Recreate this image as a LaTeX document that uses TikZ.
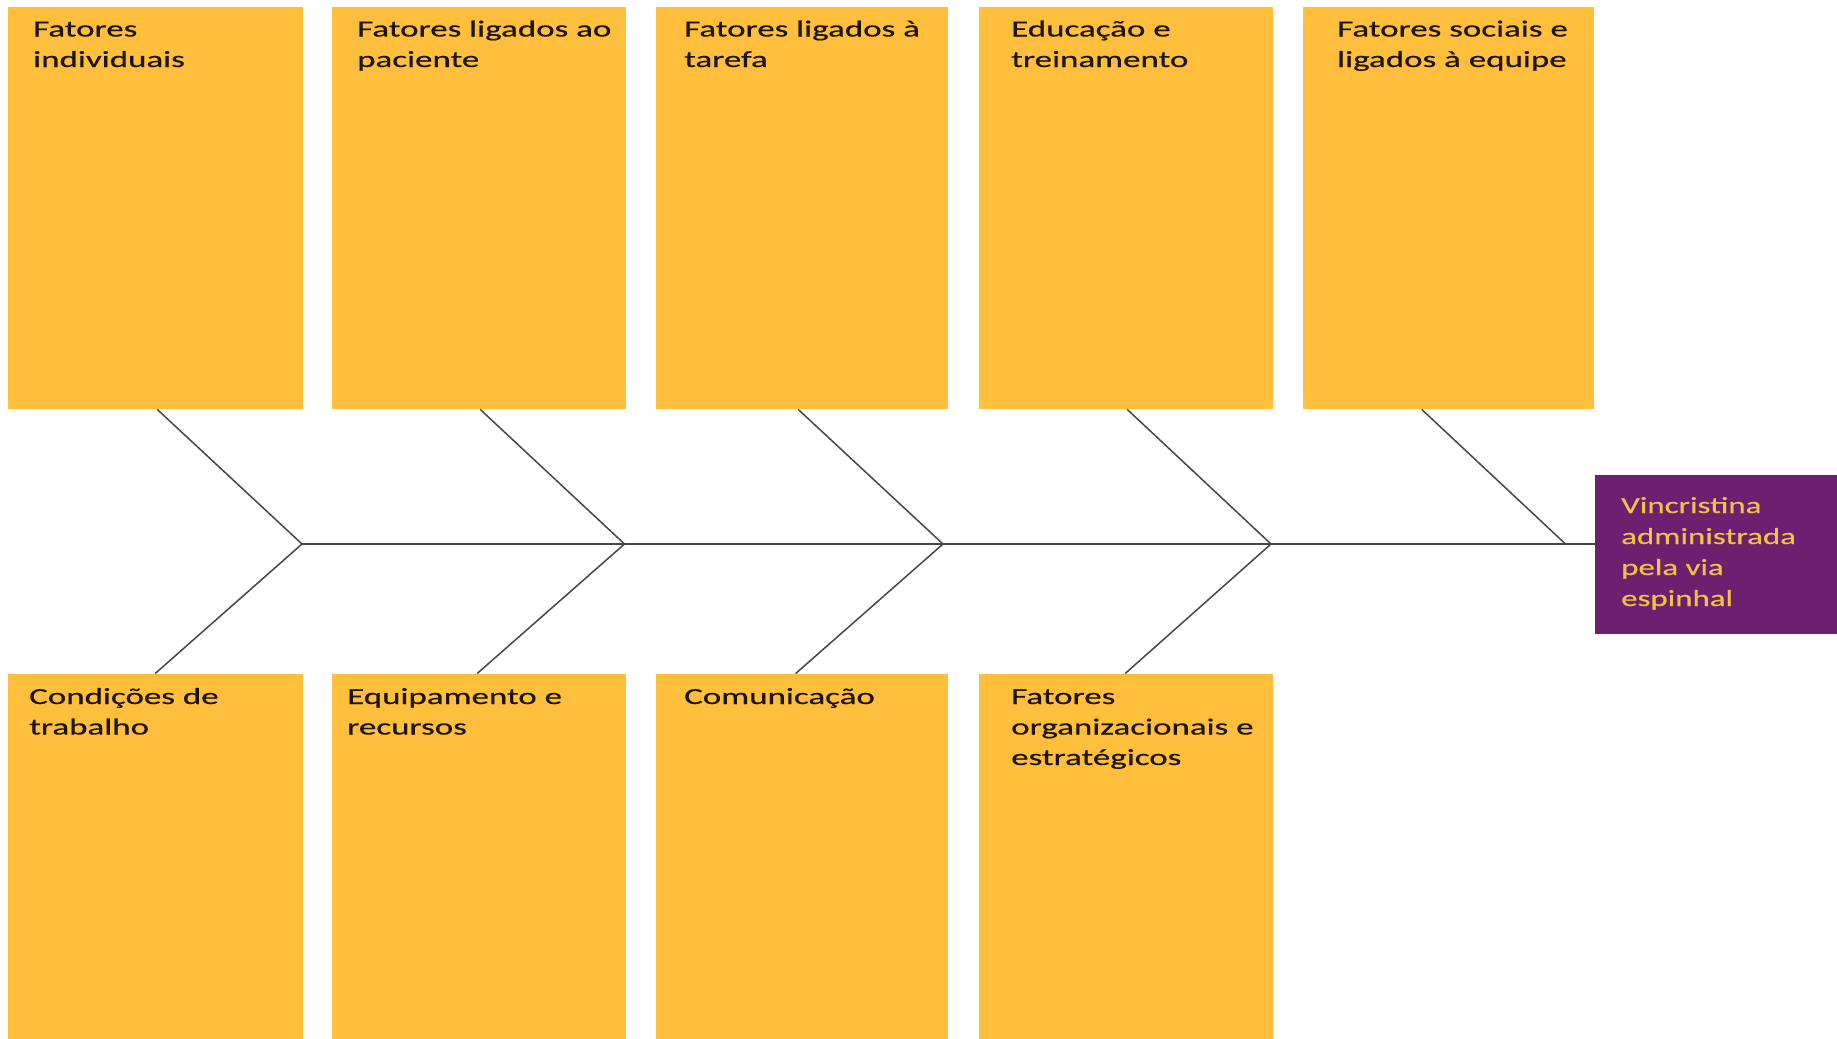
\documentclass[tikz,border=0pt]{standalone}
\usepackage{fontspec}
\setmainfont[FakeStretch=1.44]{Carlito}
\newfontfamily\causefont[FakeStretch=1.52,FakeBold=0.6]{Carlito}
\newfontfamily\effectfont[FakeStretch=1.43,FakeBold=0.5]{Carlito}
\usetikzlibrary{calc}
\definecolor{boxorange}{RGB}{255,190,60}
\definecolor{headpurple}{RGB}{110,31,112}
\definecolor{headtext}{RGB}{244,192,72}
\definecolor{bone}{RGB}{70,70,70}
\definecolor{labeltext}{RGB}{26,22,10}
\newcommand{\lbl}[1]{\begin{tabular}[t]{@{}l@{}}#1\end{tabular}}
\begin{document}
\begin{tikzpicture}[x=1pt,y=-1pt,
  causebox/.style={draw=none,fill=boxorange,rectangle,inner sep=0pt,anchor=north west},
  headbox/.style={draw=none,fill=headpurple,rectangle,inner sep=0pt,anchor=north west},
  cause/.style={anchor=base west,inner sep=0pt,text=labeltext,
    font=\causefont\fontsize{23}{30.5}\selectfont},
  effect/.style={anchor=base west,inner sep=0pt,text=headtext,
    font=\effectfont\fontsize{23}{31}\selectfont},
  bonestyle/.style={draw=bone,line width=1.5pt}]
\useasboundingbox (0,0) rectangle (1837,1039);

% upper row of cause boxes
\node[causebox,minimum width=295pt,minimum height=402pt] (t1) at (8,7) {};
\node[causebox,minimum width=294pt,minimum height=402pt] (t2) at (331.5,7) {};
\node[causebox,minimum width=292pt,minimum height=402pt] (t3) at (656,7) {};
\node[causebox,minimum width=294pt,minimum height=402pt] (t4) at (978.5,7) {};
\node[causebox,minimum width=291pt,minimum height=402pt] (t5) at (1303,7) {};

% lower row of cause boxes (run off the bottom edge)
\node[causebox,minimum width=295pt,minimum height=380pt] (b1) at (8,673.5) {};
\node[causebox,minimum width=294pt,minimum height=380pt] (b2) at (331.5,673.5) {};
\node[causebox,minimum width=292pt,minimum height=380pt] (b3) at (656,673.5) {};
\node[causebox,minimum width=294pt,minimum height=380pt] (b4) at (978.5,673.5) {};

% effect box at the head of the spine (runs off the right edge)
\node[headbox,minimum width=260pt,minimum height=158.5pt] (head) at (1594.5,475) {};

% labels
\node[cause] (lt1) at (33,36.5) {\lbl{Fatores\\individuais}};
\node[cause] (lt2) at (357,36.5) {\lbl{Fatores ligados ao\\paciente}};
\node[cause] (lt3) at (684,36.5) {\lbl{Fatores ligados à\\tarefa}};
\node[cause] (lt4) at (1011,36.5) {\lbl{Educação e\\treinamento}};
\node[cause] (lt5) at (1337,36.5) {\lbl{Fatores sociais e\\ligados à equipe}};
\node[cause] (lb1) at (29,704) {\lbl{Condições de\\trabalho}};
\node[cause] (lb2) at (347,704) {\lbl{Equipamento e\\recursos}};
\node[cause] (lb3) at (684,704) {\lbl{Comunicação}};
\node[cause] (lb4) at (1011,704) {\lbl{Fatores\\organizacionais e\\estratégicos}};
\node[effect] (lh) at (1621,513) {\lbl{Vincristina\\administrada\\pela via\\espinhal}};

% junctions on the spine
\coordinate (j1) at (302,544);
\coordinate (j2) at (624.5,544);
\coordinate (j3) at (943,544);
\coordinate (j4) at (1271,544);
\coordinate (j5) at (1565.5,544);

% spine
\draw[bonestyle] (j1) -- (head.west |- j1);

% upper bones
\draw[bonestyle] ($(t1.south)+(1.5,0)$) -- (j1);
\draw[bonestyle] ($(t2.south)+(1.5,0)$) -- (j2);
\draw[bonestyle] ($(t3.south)+(-4,0)$) -- (j3);
\draw[bonestyle] ($(t4.south)+(1.5,0)$) -- (j4);
\draw[bonestyle] ($(t5.south)+(-27,0)$) -- (j5);

% lower bones
\draw[bonestyle] (j1) -- ($(b1.north)+(-0.5,0)$);
\draw[bonestyle] (j2) -- ($(b2.north)+(-1.5,0)$);
\draw[bonestyle] (j3) -- ($(b3.north)+(-6.5,0)$);
\draw[bonestyle] (j4) -- ($(b4.north)+(-0.5,0)$);
\end{tikzpicture}
\end{document}
